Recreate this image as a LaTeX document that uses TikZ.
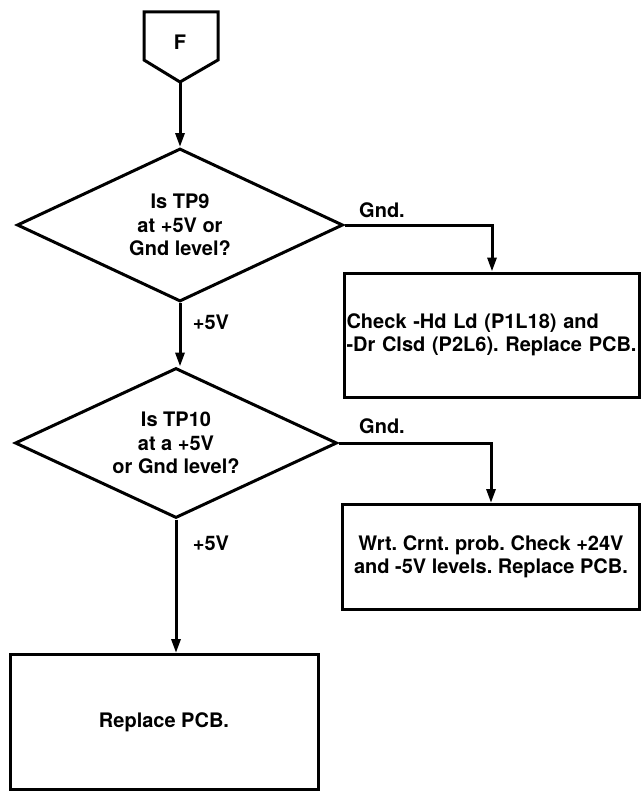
\documentclass[tikz,border=0pt]{standalone}
\usepackage{fontspec}
\setmainfont{TeX Gyre Heros}
\usetikzlibrary{shapes.geometric,arrows.meta}

\begin{document}
\frenchspacing
\begin{tikzpicture}[x = 1pt, y = -1pt, align = center,
                    font = \bfseries\fontsize{20}{23.5}\selectfont,
                    decision/.style = {draw, diamond, line width = 3pt, inner sep = 0pt,
                                       aspect = 2.2, minimum width = 326pt, minimum height = 153pt},
                    block/.style = {draw, rectangle, line width = 3pt, inner sep = 2pt},
                    flow/.style = {line width = 3pt, -{Triangle[length = 14pt, width = 9pt]}}]
                    \useasboundingbox (0, 0) rectangle (642, 797);

                    % off-page connector
                    \draw[line width = 3pt, line join = miter] (144, 12) -- (218, 12) -- (218, 60) -- (180, 82) -- (144, 60) -- cycle;
                    \node (F) at (180, 42) {F};
                    \coordinate (Ftip) at (180, 82);

                    \node[decision] (Q1) at (180, 225) {Is TP9\\ at +5V or\\ Gnd level?};
                    \node[decision, minimum width = 322pt, minimum height = 150pt] (Q2) at (176, 443) {Is TP10\\ at a +5V\\ or Gnd level?};

                    \node[block, minimum width = 295pt, minimum height = 124pt, text width = 291pt, align = left] (B1) at (492, 335)
                        {Check -Hd Ld (P1L18) and\\ -Dr Clsd (P2L6). Replace PCB.};
                    \node[block, minimum width = 297pt, minimum height = 105pt] (B2) at (491, 557)
                        {Wrt. Crnt. prob. Check +24V\\ and -5V levels. Replace PCB.};
                    \node[block, minimum width = 308pt, minimum height = 135pt] (B3) at (164, 722) {Replace PCB.};

                    \node (Gnd1) at (382, 210) {Gnd.};
                    \node (Gnd2) at (382, 426) {Gnd.};
                    \node (Pos1) at (211, 322) {+5V};
                    \node (Pos2) at (211, 543) {+5V};

                    \draw[flow] (Ftip) -- (Q1.north);
                    \draw[flow] (Q1.east) -| (B1.north);
                    \draw[flow] (Q1.south) -- (Q1.south |- Q2.north);
                    \draw[flow] (Q2.east) -| (B2.north);
                    \draw[flow] (Q2.south) -- (Q2.south |- B3.north);
                \end{tikzpicture}
\end{document}
